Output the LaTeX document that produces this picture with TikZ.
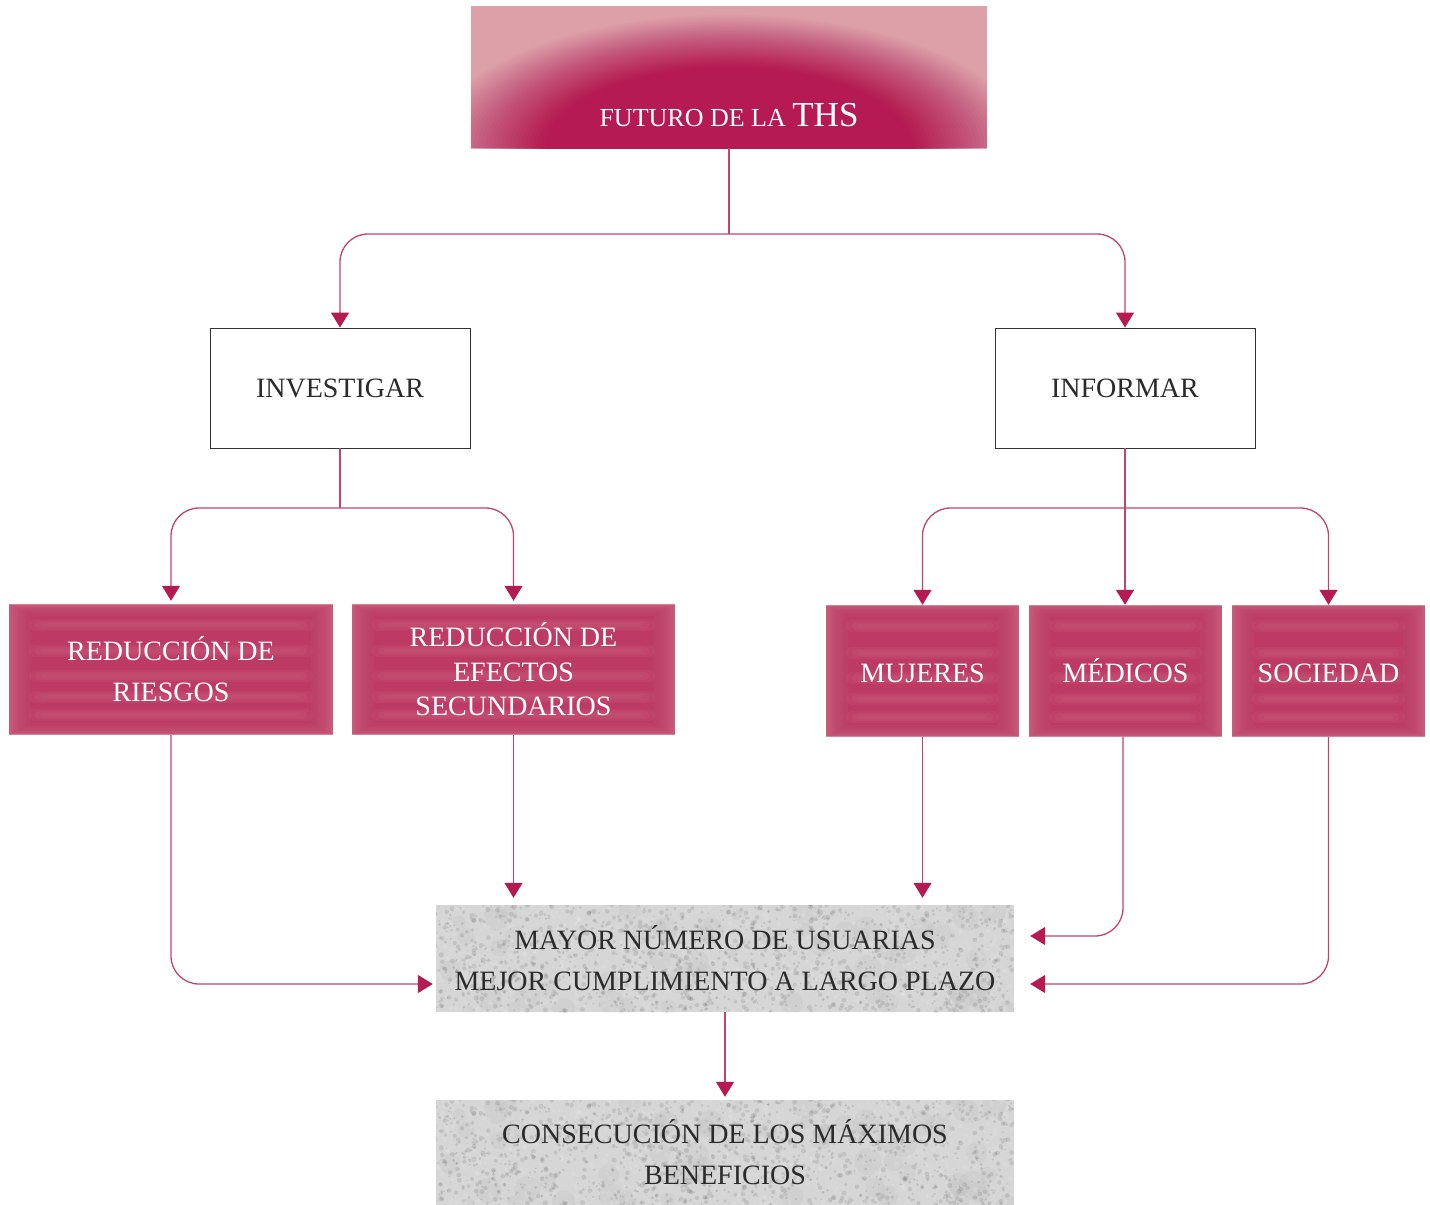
\documentclass[tikz,border=0pt]{standalone}
\usepackage{fontspec}
\setmainfont{Liberation Serif}
\usetikzlibrary{arrows.meta,calc}

\definecolor{crim}{HTML}{B51A52}
\definecolor{roseLight}{HTML}{DDA0A8}
\definecolor{linkcol}{HTML}{C4426F}
\definecolor{pinkEdge}{HTML}{D4849A}
\definecolor{pinkMid}{HTML}{BD3A64}
\definecolor{pinkStripe}{HTML}{CC6682}
\definecolor{inkGray}{HTML}{2B2B2B}
\definecolor{paper}{HTML}{D6D6D6}

% soft framed look with blurred horizontal bands for the rose boxes
\newcommand\pinkfill{%
  \path (path picture bounding box.north west) coordinate (pa)
        (path picture bounding box.south east) coordinate (pb);
  \fill[pinkMid,opacity=0.55] ($(pa)+(0,1)$) rectangle ($(pb)+(0,-1)$);
  \foreach \d in {2,4,...,20}{%
    \fill[pinkMid,opacity=0.14] ($(pa)+(\d,0.5*\d)$) rectangle ($(pb)+(-\d,-0.5*\d)$);}
  \fill[pinkMid] ($(pa)+(22,12)$) rectangle ($(pb)+(-22,-12)$);
  \foreach \f in {0.16,0.36,0.55,0.71,0.85}{%
    \foreach \w/\s in {12/26,8/30,4/34}{%
      \draw[pinkStripe,opacity=0.18,line width=\w pt,line cap=round,shorten <=\s pt,shorten >=\s pt]
        ($(pa)!\f!(pa|-pb)$) -- ($(pa-|pb)!\f!(pb)$);}}
}

% speckled stone texture for the grey boxes (boxes are 578 wide, about 106 high)
\newcommand\mottlefill{%
  \pgfmathsetseed{4242}%
  \path (path picture bounding box.south west) coordinate (ma);
  \foreach \k in {1,...,120}{%
    \ifodd\k\def\mc{white}\else\def\mc{black}\fi
    \fill[\mc,opacity=0.025] ($(ma)+({rnd*578},{-rnd*107})$) circle[radius={6pt+8pt*rnd}];
  }%
  \foreach \k in {1,...,2600}{%
    \ifodd\k\def\mc{white}\else\def\mc{black}\fi
    \fill[\mc,opacity=0.09] ($(ma)+({rnd*578},{-rnd*107})$) circle[radius={0.8pt+1.8pt*rnd}];
  }%
}

\tikzset{
  txt/.style={font=\fontsize{28}{41}\selectfont},
  plainbox/.style={txt,draw=black!80,line width=0.9pt,fill=white,text=inkGray,
    minimum width=260pt,minimum height=120pt,inner sep=0pt},
  rosebox/.style={txt,fill=pinkEdge,text=white,align=center,inner sep=0pt,
    minimum width=#1,minimum height=131pt,path picture={\pinkfill}},
  stonebox/.style={txt,fill=paper,text=inkGray,align=center,inner sep=0pt,
    minimum width=578pt,minimum height=106pt,path picture={\mottlefill}},
  link/.style={draw=linkcol,line width=1.3pt,rounded corners=28pt},
  linkarrow/.style={link,-{Triangle[width=18pt,length=15pt,color=crim]}},
}

\begin{document}
\begin{tikzpicture}[x=1pt,y=-1pt]
\useasboundingbox (0,0) rectangle (1430,1205);

% title banner: light rose with a crimson glow rising from the bottom edge
\node[minimum width=516pt,minimum height=142pt,inner sep=0pt] (top) at (729,77) {};
\begin{scope}
  \clip (top.south west) rectangle (top.north east);
  \fill[roseLight] (top.south west) rectangle (top.north east);
  \foreach \i in {0,...,29}{%
    \pgfmathsetmacro\op{1/(30-\i)}
    \fill[crim,opacity=\op] (729,150) ellipse [x radius={300pt-\i*4pt},y radius={135pt-\i*1.8pt}];}
\end{scope}
\node[anchor=base,text=white,inner sep=0pt] (title) at (729,126)
  {\fontsize{26}{30}\selectfont FUTURO DE LA \fontsize{35}{40}\selectfont THS};

% second level
\node[plainbox] (inv) at (340,388) {INVESTIGAR};
\node[plainbox] (inf) at (1125,388) {INFORMAR};

% third level
\node[rosebox=324pt] (rie) at (171,669.5) {REDUCCIÓN DE\\RIESGOS};
\node[rosebox=323pt,font=\fontsize{28}{34.5}\selectfont] (eff) at (513.5,669.5)
  {REDUCCIÓN DE\\EFECTOS\\SECUNDARIOS};
\node[rosebox=193pt,minimum height=132pt] (muj) at (922.5,671) {\vphantom{É}MUJERES};
\node[rosebox=193pt,minimum height=132pt] (med) at (1125.5,671) {MÉDICOS};
\node[rosebox=193pt,minimum height=132pt] (soc) at (1328.5,671) {\vphantom{É}SOCIEDAD};

% outcomes
\node[stonebox,minimum height=107pt] (g1) at (725,958.5)
  {MAYOR NÚMERO DE USUARIAS\\MEJOR CUMPLIMIENTO A LARGO PLAZO};
\node[stonebox,minimum height=105pt] (g2) at (725,1152.5)
  {CONSECUCIÓN DE LOS MÁXIMOS\\BENEFICIOS};

% junctions
\coordinate (j1) at (top.south |- 0,234);
\coordinate (j2) at (inv.south |- 0,508);
\coordinate (j3) at (inf.south |- 0,508);

% connectors
\draw[link] (top.south) -- (j1);
\draw[linkarrow] (j1) -| (inv.north);
\draw[linkarrow] (j1) -| (inf.north);

\draw[link] (inv.south) -- (j2);
\draw[linkarrow,shorten >=3pt] (j2) -| (rie.north);
\draw[linkarrow,shorten >=3pt] (j2) -| (eff.north);

\draw[linkarrow] (inf.south) -- (inf.south |- med.north);
\draw[linkarrow] (j3) -| (muj.north);
\draw[linkarrow] (j3) -| (soc.north);

\draw[linkarrow,shorten >=3pt] (rie.south) |- ([yshift=-25.5pt]g1.west);
\draw[linkarrow,shorten >=7pt] (eff.south) -- (eff.south |- g1.north);
\draw[linkarrow,shorten >=7pt] (muj.south) -- (muj.south |- g1.north);
\draw[linkarrow,shorten >=16pt] ([xshift=-2.5pt]med.south) |- ([yshift=22.5pt]g1.east);
\draw[linkarrow,shorten >=16pt] (soc.south) |- ([yshift=-25.5pt]g1.east);
\draw[linkarrow,shorten >=3pt] (g1.south) -- (g2.north);
\end{tikzpicture}
\end{document}
